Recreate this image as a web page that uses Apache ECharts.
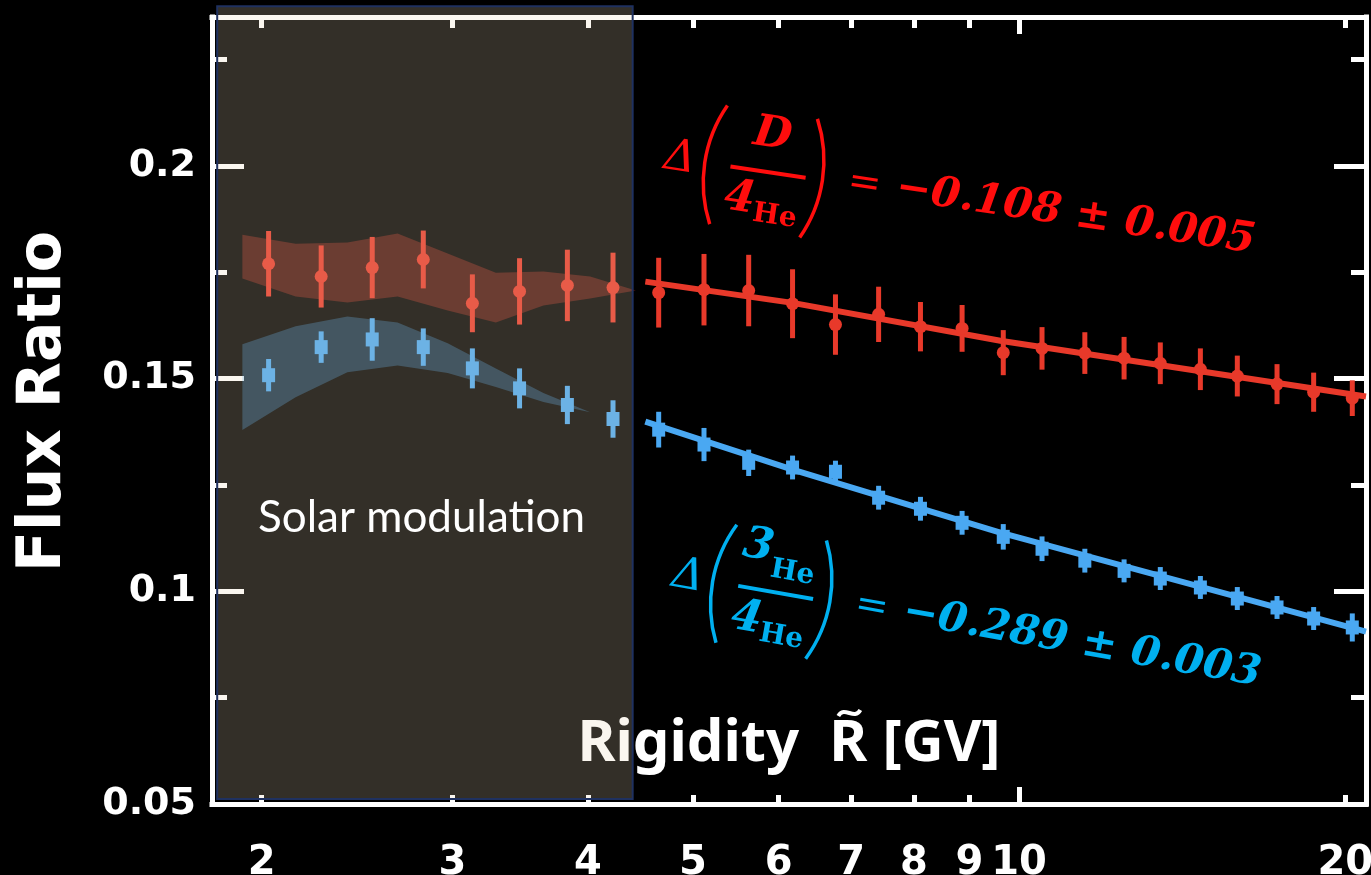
<!DOCTYPE html>
<html>
<head>
<meta charset="utf-8">
<script src="https://cdn.jsdelivr.net/npm/echarts@6/dist/echarts.min.js"></script>
<style>
  html, body { margin: 0; padding: 0; background: #000; }
  #chart { width: 1371px; height: 875px; }
</style>
</head>
<body>
<div id="chart"></div>
<script>
// Rigidity bin centres [GV]
const rigidity = [2.03, 2.27, 2.53, 2.82, 3.13, 3.46, 3.83, 4.22, 4.65, 5.12, 5.63, 6.18, 6.77,
                  7.42, 8.11, 8.86, 9.67, 10.5, 11.5, 12.5, 13.5, 14.7, 15.9, 17.3, 18.7, 20.3];

// D / 4He flux ratio and its error
const dRatio = [0.1770, 0.1740, 0.1761, 0.1780, 0.1677, 0.1705, 0.1719, 0.1714, 0.1702, 0.1709,
                0.1707, 0.1676, 0.1627, 0.1651, 0.1622, 0.1618, 0.1561, 0.1571, 0.1560, 0.1548,
                0.1536, 0.1522, 0.1506, 0.1487, 0.1468, 0.1454];
const dRatioErr = [0.0077, 0.0073, 0.0072, 0.0068, 0.0068, 0.0078, 0.0084, 0.0082, 0.0082, 0.0084,
                   0.0084, 0.0081, 0.0071, 0.0065, 0.0058, 0.0055, 0.0053, 0.0050, 0.0049, 0.0050,
                   0.0049, 0.0049, 0.0048, 0.0047, 0.0046, 0.0042];

// 3He / 4He flux ratio and its error
const heRatio = [0.1508, 0.1574, 0.1592, 0.1574, 0.1524, 0.1477, 0.1438, 0.1405, 0.1380, 0.1345,
                 0.1302, 0.1291, 0.1281, 0.1220, 0.1194, 0.1161, 0.1128, 0.1100, 0.1072, 0.1048,
                 0.1030, 0.1009, 0.0983, 0.0962, 0.0936, 0.0915];
const heRatioErr = [0.0038, 0.0037, 0.0050, 0.0044, 0.0047, 0.0047, 0.0045, 0.0044, 0.0042, 0.0039,
                    0.0031, 0.0028, 0.0026, 0.0028, 0.0028, 0.0028, 0.0030, 0.0029, 0.0028, 0.0027,
                    0.0027, 0.0027, 0.0027, 0.0027, 0.0027, 0.0033];

// Solar-modulation model bands (bin edges, upper and lower bounds)
const dBandRigidity = [1.92, 2.15, 2.40, 2.67, 2.97, 3.29, 3.64, 4.02, 4.43];
const dBandHigh = [0.1838, 0.1817, 0.1820, 0.1841, 0.1794, 0.1749, 0.1752, 0.1740, 0.1707];
const dBandLow  = [0.1735, 0.1693, 0.1679, 0.1693, 0.1660, 0.1632, 0.1672, 0.1688, 0.1707];
const heBandRigidity = [1.92, 2.15, 2.40, 2.67, 2.97, 3.29, 3.64, 4.02];
const heBandHigh = [0.1581, 0.1623, 0.1646, 0.1632, 0.1583, 0.1524, 0.1466, 0.1421];
const heBandLow  = [0.1379, 0.1456, 0.1515, 0.1531, 0.1513, 0.1480, 0.1445, 0.1421];

// Power-law fits above the solar-modulation region
const fitRigidity = [4.52, 6.18, 9.61, 20.9];
const dFit  = [0.1728, 0.1678, 0.1589, 0.1458];
const heFit = [0.1399, 0.1286, 0.1138, 0.0905];

// Axis ticks
const xLabelValues = [2, 3, 4, 5, 6, 7, 8, 9, 10, 20];
const xShortTicks = [2, 3, 4, 5, 6, 7, 8, 9, 20];
const xLongTicks = [10];
const yLabelValues = [0.05, 0.1, 0.15, 0.2];
const yMajorTicks = [0.1, 0.15, 0.2];
const yMinorTicks = [0.075, 0.125, 0.175, 0.225];

// Shaded low-rigidity region
const solarRigidity = [1.82, 4.40];
const solarFlux = [0.0512, 0.2375];

const RED = '#e8392a';
const BLUE = '#4aa8f2';
const RED_TEXT = '#ff0d0d';
const BLUE_TEXT = '#00b0f0';
const WHITE = '#ffffff';

const X_MIN = 1.8, X_MAX = 20.9, Y_MIN = 0.05, Y_MAX = 0.235;
const GRID = { left: 212, right: 5, top: 17, bottom: 71 };
const CHART_W = 1371;

function xAxisDef(position, ticks, tickLen, withLine, withLabels) {
  return {
    type: 'log', logBase: 10, min: X_MIN, max: X_MAX, position: position,
    axisLine: { show: withLine, onZero: false, lineStyle: { color: WHITE, width: 5, cap: 'square' } },
    axisTick: { show: true, inside: true, length: tickLen, customValues: ticks,
                lineStyle: { color: WHITE, width: 5 } },
    axisLabel: withLabels ? {
      show: true, customValues: xLabelValues, color: WHITE, margin: 40,
      fontFamily: 'DejaVu Sans', fontWeight: 'bold', fontSize: 40,
      formatter: v => String(v)
    } : { show: false },
    splitLine: { show: false }, minorTick: { show: false }, minorSplitLine: { show: false }
  };
}

function yAxisDef(position, ticks, tickLen, withLine, withLabels) {
  return {
    type: 'value', min: Y_MIN, max: Y_MAX, position: position,
    axisLine: { show: withLine, onZero: false, lineStyle: { color: WHITE, width: 5, cap: 'square' } },
    axisTick: { show: true, inside: true, length: tickLen, customValues: ticks,
                lineStyle: { color: WHITE, width: 5 } },
    axisLabel: withLabels ? {
      show: true, customValues: yLabelValues, color: WHITE, margin: 16,
      fontFamily: 'DejaVu Sans', fontWeight: 'bold', fontSize: 38,
      formatter: v => String(v)
    } : { show: false },
    splitLine: { show: false }
  };
}

// Axis title parts: the tilde is drawn over the "R"
const NAME_HEAD = 'Rigidity  ';
const NAME_SYMBOL = 'R';
const NAME_TAIL = ' [GV]';
const NAME_FONT = 'bold 58px "Noto Sans"';

const xAxes = [
  xAxisDef('bottom', xShortTicks, 9, true, true),
  xAxisDef('bottom', xLongTicks, 17, false, false),
  xAxisDef('top', xShortTicks, 11, true, false),
  xAxisDef('top', xLongTicks, 17, false, false)
];
xAxes[0].name = NAME_HEAD + NAME_SYMBOL + NAME_TAIL;
xAxes[0].nameLocation = 'middle';
xAxes[0].nameGap = -89;
xAxes[0].nameTextStyle = { color: WHITE, fontFamily: 'Noto Sans', fontWeight: 'bold', fontSize: 58 };

const yAxes = [
  yAxisDef('left', yMajorTicks, 32, true, true),
  yAxisDef('left', yMinorTicks, 15, false, false),
  yAxisDef('right', yMajorTicks, 32, true, false),
  yAxisDef('right', yMinorTicks, 15, false, false)
];
yAxes[0].name = 'Flux Ratio';
yAxes[0].nameLocation = 'middle';
yAxes[0].nameRotate = 90;
yAxes[0].nameGap = 138;
yAxes[0].nameTextStyle = { color: WHITE, fontFamily: 'DejaVu Sans', fontWeight: 'bold', fontSize: 60,
                           padding: [0, 0, 0, 18] };

// Filled band between an upper and a lower edge
function bandSeries(xs, hi, lo, fill) {
  return {
    type: 'custom', z: 2, silent: true,
    data: [[0]],
    renderItem: function (params, api) {
      const pts = [];
      for (let i = 0; i < xs.length; i++) pts.push(api.coord([xs[i], hi[i]]));
      for (let i = xs.length - 1; i >= 0; i--) pts.push(api.coord([xs[i], lo[i]]));
      return { type: 'polygon', shape: { points: pts }, style: { fill: fill } };
    }
  };
}

// Points with vertical error bars; marker is a circle or a small box
function errorSeries(ys, errs, color, marker) {
  return {
    type: 'custom', z: 4, silent: true,
    data: rigidity.map((r, i) => [r, ys[i], errs[i]]),
    encode: { x: 0, y: 1 },
    renderItem: function (params, api) {
      const x = api.value(0), y = api.value(1), e = api.value(2);
      const c = api.coord([x, y]);
      const top = api.coord([x, y + e]);
      const bot = api.coord([x, y - e]);
      const children = [{
        type: 'rect',
        shape: { x: c[0] - 2.5, y: top[1], width: 5, height: bot[1] - top[1] },
        style: { fill: color }
      }];
      if (marker === 'circle') {
        children.push({ type: 'circle', shape: { cx: c[0], cy: c[1], r: 6.5 }, style: { fill: color } });
      } else {
        children.push({ type: 'rect', shape: { x: c[0] - 6.5, y: c[1] - 7, width: 13, height: 14 },
                        style: { fill: color } });
      }
      return { type: 'group', children: children };
    }
  };
}

function fitSeries(ys, color) {
  return {
    type: 'line', z: 3, silent: true, symbol: 'none', smooth: false,
    data: fitRigidity.map((r, i) => [r, ys[i]]),
    lineStyle: { color: color, width: 6 }
  };
}

// Translucent veil over the solar-modulation region
const veilSeries = {
  type: 'custom', z: 10, silent: true, clip: false,
  data: [[solarRigidity[0], solarRigidity[1], solarFlux[0], solarFlux[1]]],
  encode: { x: [0, 1], y: [2, 3] },
  renderItem: function (params, api) {
    const a = api.coord([api.value(0), api.value(3)]);
    const b = api.coord([api.value(1), api.value(2)]);
    return {
      type: 'rect',
      shape: { x: a[0], y: a[1], width: b[0] - a[0], height: b[1] - a[1] },
      style: { fill: 'rgba(232,214,182,0.22)', stroke: '#1f3160', lineWidth: 2 }
    };
  }
};

// Parenthesis drawn as a thin circular arc
function paren(bulgeX, side, color) {
  const half = 60, sag = 14;
  const r = (half * half + sag * sag) / (2 * sag);
  const a = Math.asin(half / r);
  if (side === 'left') {
    return { type: 'arc', shape: { cx: bulgeX + r, cy: 0, r: r, startAngle: Math.PI - a, endAngle: Math.PI + a },
             style: { stroke: color, lineWidth: 3.5, fill: null } };
  }
  return { type: 'arc', shape: { cx: bulgeX - r, cy: 0, r: r, startAngle: -a, endAngle: a },
           style: { stroke: color, lineWidth: 3.5, fill: null } };
}

function txt(x, y, s, font, color, align) {
  return { type: 'text', x: x, y: y,
           style: { text: s, font: font, fill: color, align: align || 'center', verticalAlign: 'middle',
                    textAlign: align || 'center', textVerticalAlign: 'middle' } };
}

const SERIF = '"DejaVu Serif"';
function formula(cx, cy, angleDeg, color, numerator, value) {
  const kids = [
    txt(0, 0, '\u0394', 'italic 44px ' + SERIF, color),
    paren(25, 'left', color),
    { type: 'rect', shape: { x: 51, y: -2, width: 76, height: 4 }, style: { fill: color } },
    txt(65, 31, '4', 'italic bold 44px ' + SERIF, color),
    txt(102, 43, 'He', 'bold 28px ' + SERIF, color),
    paren(144, 'right', color),
    txt(186, -2, '=', '40px ' + SERIF, color),
    txt(218, -3, value, 'italic bold 42px ' + SERIF, color, 'left')
  ];
  if (numerator === 'D') {
    kids.push(txt(88, -37, 'D', 'italic bold 44px ' + SERIF, color));
  } else {
    kids.push(txt(64, -42, '3', 'italic bold 44px ' + SERIF, color));
    kids.push(txt(102, -22, 'He', 'bold 28px ' + SERIF, color));
  }
  return { type: 'group', x: cx, y: cy, rotation: -angleDeg * Math.PI / 180, z: 120, children: kids };
}

// Tilde accent over the "R" of the axis title (title is centred on the grid)
function tildeAccent() {
  const ctx = document.createElement('canvas').getContext('2d');
  ctx.font = NAME_FONT;
  const full = ctx.measureText(NAME_HEAD + NAME_SYMBOL + NAME_TAIL).width;
  const head = ctx.measureText(NAME_HEAD).width;
  const sym = ctx.measureText(NAME_SYMBOL).width;
  const centre = GRID.left + (CHART_W - GRID.left - GRID.right) / 2;
  const cx = centre - full / 2 + head + sym / 2 + 1;
  const cy = 713;
  return {
    type: 'bezierCurve', z: 5,
    shape: { x1: cx - 11, y1: cy + 3, cpx1: cx - 5, cpy1: cy - 8, cpx2: cx + 5, cpy2: cy + 8, x2: cx + 11, y2: cy - 3 },
    style: { stroke: WHITE, lineWidth: 4, fill: null }
  };
}

const chart = echarts.init(document.getElementById('chart'), null, { renderer: 'canvas' });
chart.setOption({
  animation: false,
  backgroundColor: '#000000',
  grid: { left: GRID.left, right: GRID.right, top: GRID.top, bottom: GRID.bottom,
          containLabel: false, outerBoundsMode: 'none' },
  xAxis: xAxes,
  yAxis: yAxes,
  series: [
    bandSeries(dBandRigidity, dBandHigh, dBandLow, 'rgba(232,57,42,0.31)'),
    bandSeries(heBandRigidity, heBandHigh, heBandLow, 'rgba(74,168,242,0.30)'),
    fitSeries(dFit, RED),
    fitSeries(heFit, BLUE),
    errorSeries(dRatio, dRatioErr, RED, 'circle'),
    errorSeries(heRatio, heRatioErr, BLUE, 'box'),
    veilSeries
  ],
  graphic: [
    { type: 'text', x: 258, y: 518, z: 120,
      style: { text: 'Solar modulation', font: '44px Lato', fill: WHITE,
               verticalAlign: 'middle', textVerticalAlign: 'middle' } },
    formula(680, 159, 8.5, RED_TEXT, 'D', '\u22120.108 \u00b1 0.005'),
    formula(688, 577, 10, BLUE_TEXT, '3He', '\u22120.289 \u00b1 0.003'),
    tildeAccent()
  ]
});
</script>
</body>
</html>
